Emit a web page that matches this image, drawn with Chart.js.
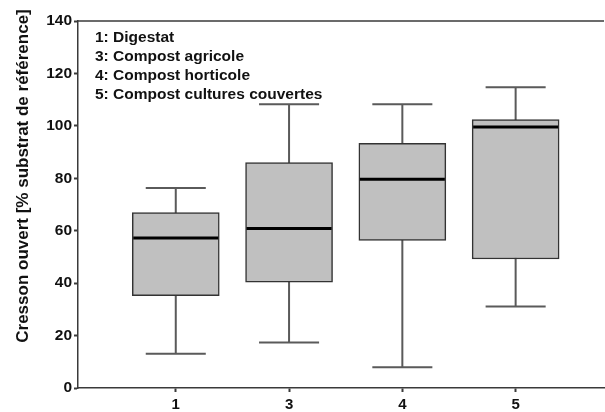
<!DOCTYPE html>
<html><head><meta charset="utf-8">
<script src="https://cdn.jsdelivr.net/npm/chart.js@4/dist/chart.umd.min.js"></script>
<style>html,body{margin:0;padding:0;background:#fff}#wrap{width:605px;height:412px;position:relative}</style>
</head><body><div id="wrap"><canvas id="c"></canvas></div>
<script>
const categories = ['1', '3', '4', '5'];
const whiskerLow = [13.1, 17.4, 7.9, 31.1];
const q1 = [35.2, 40.4, 56.3, 49.2];
const median = [57.2, 60.8, 79.6, 99.6];
const q3 = [66.9, 86.0, 93.3, 102.4];
const whiskerHigh = [76.3, 108.2, 108.2, 114.7];
const yTicks = [0, 20, 40, 60, 80, 100, 120, 140];
const legendLines = ['1: Digestat', '3: Compost agricole', '4: Compost horticole', '5: Compost cultures couvertes'];
const yTitle = 'Cresson ouvert [% substrat de référence]';

const FONT = "'Liberation Sans', Arial, sans-serif";
const AXIS = '#3a3a3a';

const boxPlugin = {
  id: 'boxPlot',
  beforeDatasetsDraw(chart) {
    const {ctx, scales: {x, y}} = chart;
    ctx.save();
    ctx.strokeStyle = '#5a5a5a';
    ctx.lineWidth = 2;
    categories.forEach((c, i) => {
      const cx = x.getPixelForValue(i);
      const yl = y.getPixelForValue(whiskerLow[i]);
      const yh = y.getPixelForValue(whiskerHigh[i]);
      const xl = x.getPixelForValue(i - 0.265);
      const xr = x.getPixelForValue(i + 0.265);
      ctx.beginPath();
      ctx.moveTo(cx, yl); ctx.lineTo(cx, yh);
      ctx.moveTo(xl, yl); ctx.lineTo(xr, yl);
      ctx.moveTo(xl, yh); ctx.lineTo(xr, yh);
      ctx.stroke();
    });
    ctx.restore();
  },
  afterDatasetsDraw(chart) {
    const {ctx, scales: {x, y}} = chart;
    const meta = chart.getDatasetMeta(0);
    ctx.save();
    ctx.strokeStyle = '#000';
    ctx.lineWidth = 3;
    categories.forEach((c, i) => {
      const el = meta.data[i];
      const ym = y.getPixelForValue(median[i]);
      ctx.beginPath();
      ctx.moveTo(el.x - el.width / 2 + 1, ym);
      ctx.lineTo(el.x + el.width / 2 - 1, ym);
      ctx.stroke();
    });
    // top frame line
    const top = y.getPixelForValue(140);
    ctx.strokeStyle = AXIS;
    ctx.lineWidth = 1.5;
    ctx.beginPath();
    ctx.moveTo(chart.chartArea.left, top);
    ctx.lineTo(chart.chartArea.right, top);
    ctx.stroke();
    // legend text
    ctx.fillStyle = '#111';
    ctx.font = 'bold 15.5px ' + FONT;
    ctx.textBaseline = 'alphabetic';
    ctx.textAlign = 'left';
    legendLines.forEach((t, k) => {
      ctx.fillText(t, 95, 42 + k * 18.9);
    });
    // y axis title
    ctx.save();
    ctx.translate(23, 176);
    ctx.rotate(-Math.PI / 2);
    ctx.font = 'bold 17px ' + FONT;
    ctx.textAlign = 'center';
    ctx.textBaseline = 'middle';
    ctx.fillText(yTitle, 0, 0);
    ctx.restore();
    ctx.restore();
  }
};

new Chart(document.getElementById('c'), {
  type: 'bar',
  data: {
    datasets: [{
      data: categories.map((c, i) => ({x: i, y: [q1[i], q3[i]]})),
      backgroundColor: '#c0c0c0',
      borderColor: '#333',
      borderWidth: 1.5,
      borderSkipped: false,
      barThickness: 87
    }]
  },
  options: {
    responsive: true,
    maintainAspectRatio: false,
    animation: false,
    layout: {padding: {top: 21, right: 1, left: 0, bottom: 0}},
    plugins: {legend: {display: false}, tooltip: {enabled: false}},
    scales: {
      x: {
        type: 'linear',
        offset: false,
        min: -0.863,
        max: 3.78,
        afterBuildTicks(s) { s.ticks = categories.map((c, i) => ({value: i})); },
        afterFit(s) { s.height = 24; },
        ticks: {
          callback: (v) => categories[v] ?? '',
          font: {family: FONT, size: 15, weight: 'bold'},
          color: '#111',
          padding: 4,
          maxRotation: 0
        },
        grid: {offset: false, drawOnChartArea: false, drawTicks: true, tickLength: 4, tickColor: AXIS, tickWidth: 2},
        border: {display: true, color: AXIS, width: 1.5}
      },
      y: {
        min: 0,
        max: 140,
        afterBuildTicks(s) { s.ticks = yTicks.map(v => ({value: v})); },
        afterFit(s) { s.width = 78; },
        ticks: {
          font: {family: FONT, size: 15.5, weight: 'bold'},
          color: '#111',
          padding: 2
        },
        grid: {drawOnChartArea: false, drawTicks: true, tickLength: 4, tickColor: AXIS, tickWidth: 2},
        border: {display: true, color: AXIS, width: 1.5},
        title: {display: false}
      }
    }
  },
  plugins: [boxPlugin]
});
</script>
</body></html>
